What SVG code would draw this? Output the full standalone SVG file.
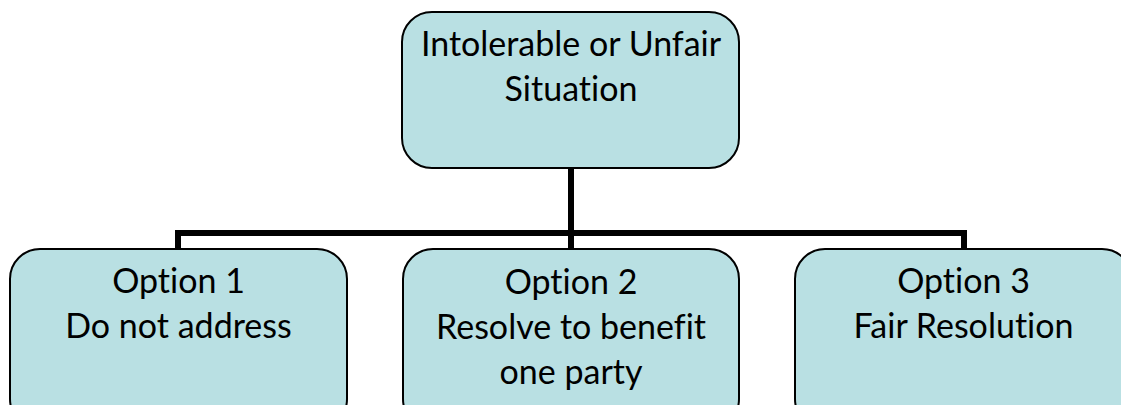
<svg xmlns="http://www.w3.org/2000/svg" width="1121" height="405" viewBox="0 0 1121 405">
<style>
.box{fill:#b9e0e3;stroke:#000;stroke-width:2}
.t{font-family:Lato,"Liberation Sans",sans-serif;font-size:34px;fill:#000;text-anchor:middle;font-variant-ligatures:none}
.c{fill:none;stroke:#000;stroke-width:6;stroke-linejoin:miter}
</style>
<g id="connectors">
<path class="c" d="M571 168 V249"/>
<path class="c" d="M178 249 V233 H964 V249"/>
</g>
<g id="top">
<rect class="box" x="402" y="12" width="337" height="156" rx="30"/>
<text class="t" x="571" y="56">Intolerable or Unfair</text>
<text class="t" x="571" y="101">Situation</text>
</g>
<g id="opt1">
<rect class="box" x="10" y="249" width="337" height="180" rx="30"/>
<text class="t" x="178.5" y="293">Option 1</text>
<text class="t" x="178.5" y="338">Do not address</text>
</g>
<g id="opt2">
<rect class="box" x="403" y="249" width="336" height="180" rx="30"/>
<text class="t" x="571" y="294">Option 2</text>
<text class="t" x="571" y="339">Resolve to benefit</text>
<text class="t" x="571" y="384">one party</text>
</g>
<g id="opt3">
<rect class="box" x="795" y="249" width="337" height="180" rx="30"/>
<text class="t" x="963.5" y="293">Option 3</text>
<text class="t" x="963.5" y="338">Fair Resolution</text>
</g>
</svg>
